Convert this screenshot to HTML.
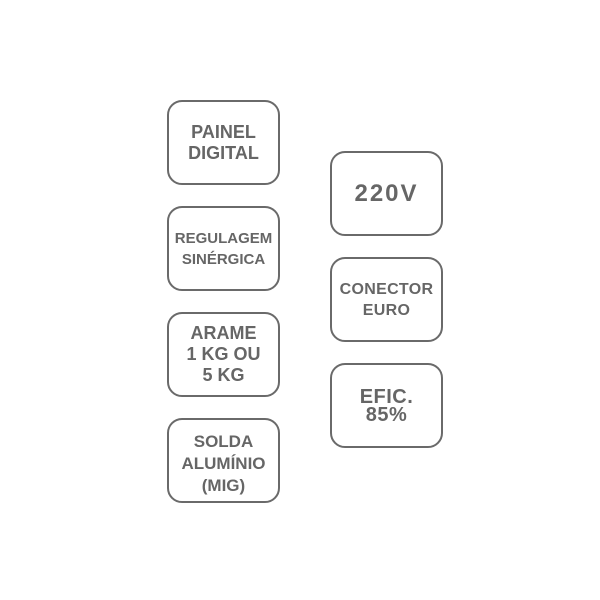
<!DOCTYPE html>
<html><head><meta charset="utf-8"><style>
body{margin:0;width:600px;height:600px;background:#fff;position:relative;font-family:"Liberation Sans",sans-serif;}
.b{position:absolute;box-sizing:border-box;border:2px solid #6a6a6a;border-radius:15px;display:flex;align-items:center;justify-content:center;text-align:center;color:#666;font-weight:bold;line-height:21px;}
</style></head><body>
<div class="b" style="left:167px;top:100px;width:113px;height:85px;font-size:18px;">PAINEL<br>DIGITAL</div>
<div class="b" style="left:167px;top:206px;width:113px;height:85px;font-size:15px;">REGULAGEM<br>SINÉRGICA</div>
<div class="b" style="left:167px;top:312px;width:113px;height:85px;font-size:18px;">ARAME<br>1 KG OU<br>5 KG</div>
<div class="b" style="left:167px;top:418px;width:113px;height:85px;font-size:17px;line-height:22px;padding-top:6px;">SOLDA<br>ALUMÍNIO<br>(MIG)</div>
<div class="b" style="left:330px;top:151px;width:113px;height:85px;font-size:24px;letter-spacing:2px;">220V</div>
<div class="b" style="left:330px;top:257px;width:113px;height:85px;font-size:16px;letter-spacing:0.3px;">CONECTOR<br>EURO</div>
<div class="b" style="left:330px;top:363px;width:113px;height:85px;font-size:20px;line-height:18px;letter-spacing:0.5px;">EFIC.<br>85%</div>
</body></html>
